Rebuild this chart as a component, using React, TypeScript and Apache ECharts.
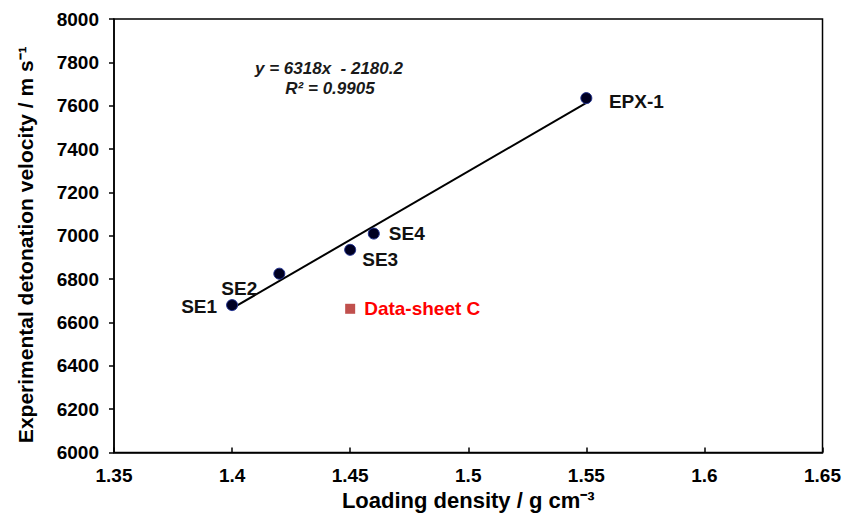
import React, { useEffect, useRef } from "react";
import * as echarts from "echarts";

const pointNames = ["SE1", "SE2", "SE3", "SE4", "EPX-1"];
const densities = [1.40, 1.42, 1.45, 1.46, 1.55];
const velocities = [6680, 6825, 6935, 7010, 7635];
const labelOffsets: [number, number][] = [[-33, 1], [-40, 15], [30, 10], [33, 0], [50, 3]];

const sheetName = "Data-sheet C";
const sheetDensity = [1.45];
const sheetVelocity = [6663];

const slope = 6318;
const intercept = -2180.2;
const trendX = [1.40, 1.55];

const FONT = "'Liberation Sans', Arial, sans-serif";

export default function App() {
  const ref = useRef<HTMLDivElement>(null);
  useEffect(() => {
    if (!ref.current) return;
    const chart = echarts.init(ref.current, undefined, { renderer: "svg" });
    const trendData = trendX.map((x) => [x, slope * x + intercept]);
    chart.setOption({
      animation: false,
      backgroundColor: "#ffffff",
      textStyle: { fontFamily: FONT },
      grid: {
        left: 114,
        right: 16,
        top: 19,
        bottom: 65.5,
        show: true,
        borderColor: "#000",
        borderWidth: 1.5,
        backgroundColor: "transparent",
      },
      xAxis: {
        type: "value",
        min: 1.35,
        max: 1.65,
        interval: 0.05,
        name: "Loading density / g cm⁻³",
        nameLocation: "middle",
        nameGap: 36,
        nameTextStyle: { fontFamily: FONT, fontWeight: "bold", fontSize: 22, color: "#000" },
        axisLine: { show: true, lineStyle: { color: "#000", width: 1.5 } },
        axisTick: { show: true, inside: true, length: 5, lineStyle: { color: "#000", width: 1.5 } },
        axisLabel: {
          color: "#000",
          fontFamily: FONT,
          fontWeight: "bold",
          fontSize: 19,
          margin: 13,
          formatter: (v: number) => String(parseFloat(v.toFixed(2))),
        },
        splitLine: { show: false },
      },
      yAxis: {
        type: "value",
        min: 6000,
        max: 8000,
        interval: 200,
        name: "Experimental detonation velocity / m s⁻¹",
        nameLocation: "middle",
        nameGap: 78,
        nameTextStyle: {
          fontFamily: FONT,
          fontWeight: "bold",
          fontSize: 21,
          color: "#000",
          padding: [0, 18, 0, 0],
        },
        axisLine: { show: true, lineStyle: { color: "#000", width: 1.5 } },
        axisTick: { show: true, inside: false, length: 5, lineStyle: { color: "#000", width: 1.5 } },
        axisLabel: {
          color: "#000",
          fontFamily: FONT,
          fontWeight: "bold",
          fontSize: 19,
          margin: 15,
          formatter: (v: number) => String(v),
        },
        splitLine: { show: false },
      },
      series: [
        {
          type: "line",
          data: trendData,
          showSymbol: false,
          symbol: "none",
          lineStyle: { color: "#000", width: 2 },
          z: 2,
          silent: true,
        },
        {
          type: "scatter",
          symbol: "circle",
          symbolSize: 11,
          z: 3,
          itemStyle: { color: "#000022", borderColor: "#1f2f8f", borderWidth: 1, opacity: 1 },
          data: densities.map((d, i) => ({
            value: [d, velocities[i]],
            name: pointNames[i],
            label: {
              show: true,
              position: "inside",
              offset: labelOffsets[i],
              formatter: pointNames[i],
              color: "#111",
              fontFamily: FONT,
              fontWeight: "bold",
              fontSize: 19,
            },
          })),
        },
        {
          type: "scatter",
          symbol: "rect",
          symbolSize: 10,
          z: 3,
          itemStyle: { color: "#c0504d", opacity: 1 },
          data: sheetDensity.map((d, i) => ({
            value: [d, sheetVelocity[i]],
            label: {
              show: true,
              position: "right",
              distance: 9,
              formatter: sheetName,
              color: "#ff0000",
              fontFamily: FONT,
              fontWeight: "bold",
              fontSize: 19,
            },
          })),
        },
      ],
      graphic: [
        {
          type: "text",
          x: 329,
          y: 68,
          style: {
            text: "y = 6318x  - 2180.2",
            fill: "#1a1a1a",
            font: `italic bold 17px ${FONT}`,
            textAlign: "center",
            textVerticalAlign: "middle",
          },
        },
        {
          type: "text",
          x: 330,
          y: 88,
          style: {
            text: "R² = 0.9905",
            fill: "#1a1a1a",
            font: `italic bold 17px ${FONT}`,
            textAlign: "center",
            textVerticalAlign: "middle",
          },
        },
      ],
    });
    return () => chart.dispose();
  }, []);
  return (
    <div
      ref={ref}
      style={{ position: "fixed", left: 0, top: 0, width: 844, height: 518 }}
    />
  );
}
